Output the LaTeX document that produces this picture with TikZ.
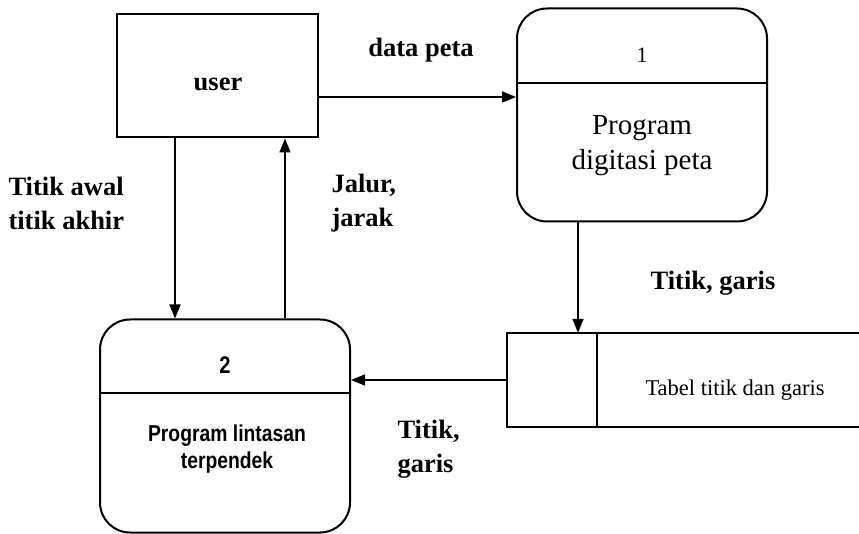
\documentclass[tikz,border=0pt]{standalone}
\usepackage{fontspec}
\setmainfont{Liberation Serif}
\newfontfamily\procsans[FakeStretch=0.84]{Liberation Sans}
\usetikzlibrary{arrows.meta}
\tikzset{
    box/.style={draw=black, line width=2pt, minimum width=201pt, minimum height=123pt},
    proc/.style={draw=black, line width=2pt, rounded corners=30pt, minimum width=250pt, minimum height=213pt},
    flow/.style={-{Triangle[length=14pt,width=11pt]}, line width=1.6pt},
    lbl/.style={font=\bfseries\fontsize{26.5}{34}\selectfont, align=left}
}
\begin{document}
\begin{tikzpicture}[x=1pt,y=-1pt]
        \useasboundingbox (0,0) rectangle (859,534);
        % entity and processes
        \node[box] (user) at (217,76) {};
        \node[lbl] (usertext) at (218,84) {user};
        \node[proc] (digit) at (642,115) {};
        \draw[line width=2pt] (digit.west |- 0,83) -- (digit.east |- 0,83);
        \node[font=\fontsize{22}{26}\selectfont] (digitno) at (642,55) {1};
        \node[font=\fontsize{29}{35}\selectfont, align=center] (digittext) at (642,146) {Program\\digitasi peta};
        \node[proc] (route) at (225,426) {};
        \draw[line width=2pt] (route.west |- 0,393) -- (route.east |- 0,393);
        \node[font=\procsans\bfseries\fontsize{24}{28}\selectfont] (routeno) at (225,365) {2};
        \node[font=\procsans\bfseries\fontsize{23}{27}\selectfont, align=center] (routetext) at (227,449) {Program lintasan\\terpendek};
        % data store, open on the right
        \node[minimum width=352pt, minimum height=94pt] (store) at (683,380) {};
        \draw[line width=2pt] (store.north east) -- (store.north west) -- (store.south west) -- (store.south east);
        \draw[line width=2pt] ([xshift=90pt]store.north west) -- ([xshift=90pt]store.south west);
        \node[font=\fontsize{22.5}{26}\selectfont] (storetext) at (735,390) {Tabel titik dan garis};
        % data flows
        \draw[flow] ([yshift=-21pt]user.east) -- ([yshift=-21pt]user.east -| digit.west);
        \draw[flow] ([xshift=-42pt]user.south) -- ([xshift=-42pt]user.south |- route.north);
        \draw[flow] ([xshift=60pt]route.north) -- ([xshift=60pt]route.north |- user.south);
        \draw[flow] ([xshift=-64pt]digit.south) -- ([xshift=-64pt]digit.south |- store.north);
        \draw[flow] (store.west) -- (store.west -| route.east);
        \node[lbl] (l1) at (421,50) {data peta};
        \node[lbl, anchor=west] (l2) at (5,203) {Titik awal\\titik akhir};
        \node[lbl, anchor=west] (l3) at (328,203) {Jalur,\\jarak};
        \node[lbl] (l4) at (713,283) {Titik, garis};
        \node[lbl, anchor=west] (l5) at (394,449) {Titik,\\garis};
    \end{tikzpicture}
\end{document}
